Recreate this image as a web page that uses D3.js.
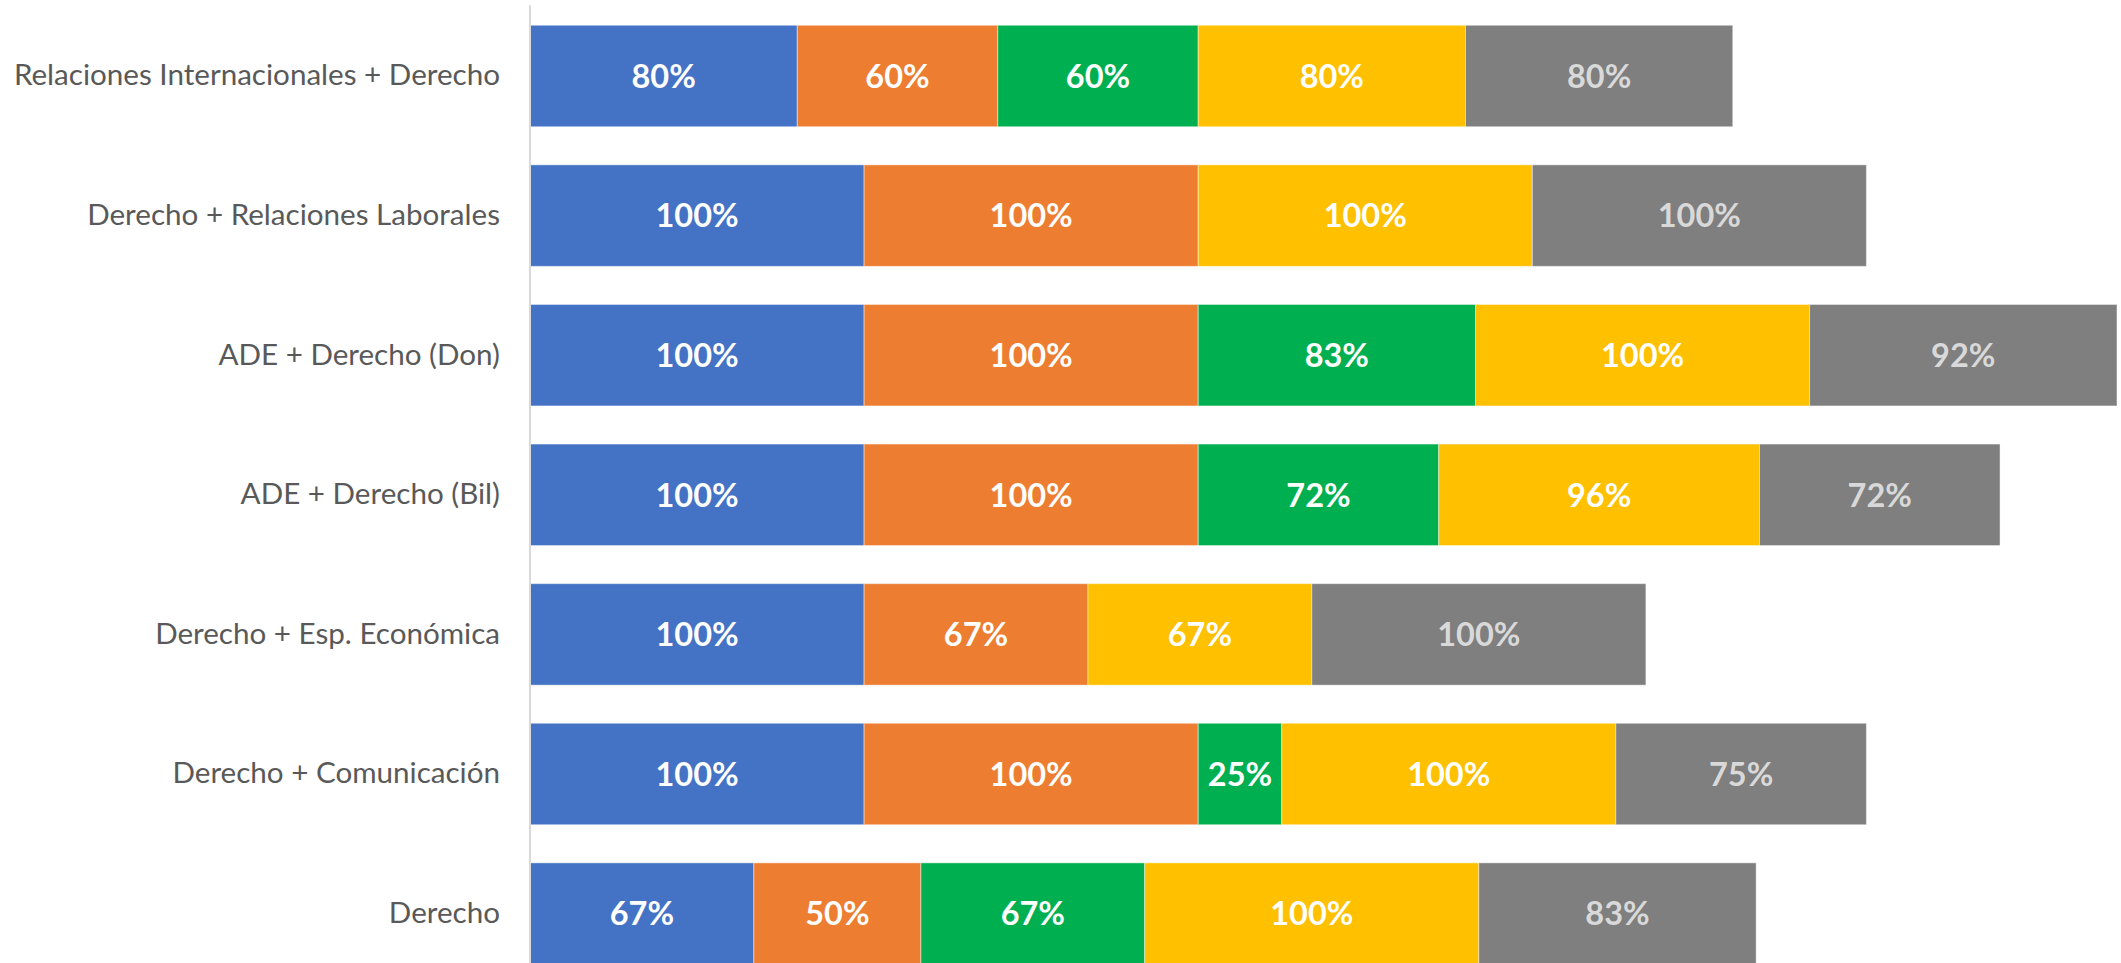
<!DOCTYPE html>
<html>
<head>
<meta charset="utf-8">
<script src="https://cdn.jsdelivr.net/npm/d3@7"></script>
<style>
  html, body { margin: 0; padding: 0; background: #fff; }
  svg { display: block; }
</style>
</head>
<body>
<svg id="chart" width="2121" height="963"></svg>
<script>
const categories = [
  "Relaciones Internacionales + Derecho",
  "Derecho + Relaciones Laborales",
  "ADE + Derecho (Don)",
  "ADE + Derecho (Bil)",
  "Derecho + Esp. Económica",
  "Derecho + Comunicación",
  "Derecho"
];
const seriesNames = ["S1", "S2", "S3", "S4", "S5"];
const s1 = [80, 100, 100, 100, 100, 100, 67];
const s2 = [60, 100, 100, 100, 67, 100, 50];
const s3 = [60, 0, 83, 72, 0, 25, 67];
const s4 = [80, 100, 100, 96, 67, 100, 100];
const s5 = [80, 100, 92, 72, 100, 75, 83];
const seriesColors = ["#4472c4", "#ed7d31", "#00b050", "#ffc000", "#7f7f7f"];
const labelColors = ["#ffffff", "#ffffff", "#ffffff", "#ffffff", "#d9d9d9"];

const allSeries = [s1, s2, s3, s4, s5];
const rows = categories.map((c, i) => {
  const o = { cat: c };
  seriesNames.forEach((k, j) => o[k] = allSeries[j][i]);
  return o;
});
const stacked = d3.stack().keys(seriesNames)(rows);

const svg = d3.select("#chart");
const plotLeft = 530;
const x = d3.scaleLinear().domain([0, 475]).range([plotLeft, plotLeft + 475 * 3.341]);
const y = d3.scaleBand().domain(categories).range([6.2, 983.4])
  .paddingInner(0.273).paddingOuter(0.1365);

const g = svg.append("g");
stacked.forEach((layer, j) => {
  const lg = g.append("g");
  layer.forEach((d, i) => {
    const v = d[1] - d[0];
    if (v <= 0) return;
    lg.append("rect")
      .attr("x", x(d[0]))
      .attr("y", y(categories[i]))
      .attr("width", x(d[1]) - x(d[0]))
      .attr("height", y.bandwidth())
      .attr("fill", seriesColors[j])
      .attr("stroke", "rgba(255,255,255,0.45)")
      .attr("stroke-width", 1);
  });
});
stacked.forEach((layer, j) => {
  layer.forEach((d, i) => {
    const v = d[1] - d[0];
    if (v <= 0) return;
    g.append("text")
      .attr("x", (x(d[0]) + x(d[1])) / 2)
      .attr("y", y(categories[i]) + y.bandwidth() / 2)
      .attr("dy", "0.36em")
      .attr("text-anchor", "middle")
      .attr("font-family", "Lato, 'Open Sans', sans-serif")
      .attr("font-weight", "bold")
      .attr("font-size", 32.5)
      .attr("fill", labelColors[j])
      .text(v + "%");
  });
});

// y axis
const yAxis = d3.axisLeft(y).tickSize(0).tickPadding(30);
const ag = svg.append("g").attr("transform", `translate(${plotLeft},0)`).call(yAxis);
ag.select(".domain").attr("stroke", "#d9d9d9").attr("stroke-width", 2)
  .attr("d", `M0,5.2V963`);
ag.selectAll("text")
  .attr("font-family", "Lato, 'Open Sans', sans-serif")
  .attr("font-size", 29.6)
  .attr("fill", "#595959");
</script>
</body>
</html>
